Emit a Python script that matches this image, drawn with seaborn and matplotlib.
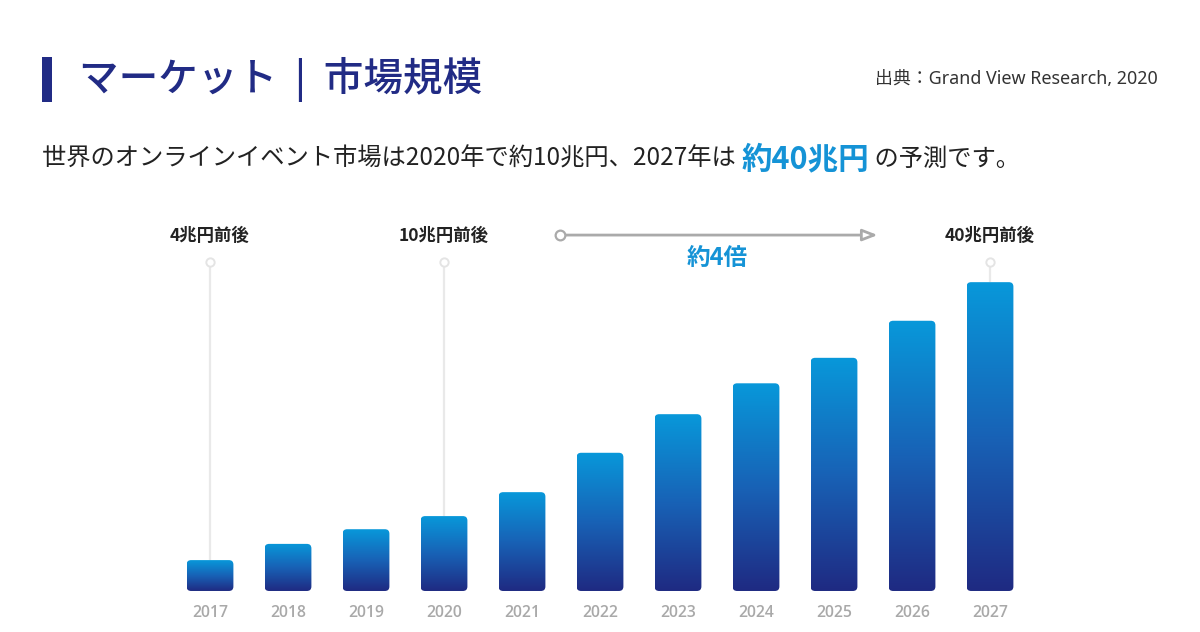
#!/usr/bin/env python3
"""
Online event market size bar chart (2017-2027)
"""

import numpy as np
import matplotlib
matplotlib.use('Agg')
import matplotlib.pyplot as plt
from matplotlib.colors import LinearSegmentedColormap
from matplotlib.patches import FancyBboxPatch, Rectangle
import seaborn as sns

sns.set_style("white")
plt.rcParams['font.family'] = ['Noto Sans CJK JP', 'DejaVu Sans']
LATIN_FIRST = ['Noto Sans', 'Noto Sans CJK JP', 'DejaVu Sans']

# Data (trillion yen)
years = ['2017', '2018', '2019', '2020', '2021', '2022', '2023', '2024', '2025', '2026', '2027']
market_size = [4.0, 6.1, 8.0, 9.7, 12.8, 17.9, 22.9, 26.9, 30.2, 35.0, 40.0]

callout_years = ['2017', '2020', '2027']
callout_labels = ['4兆円前後', '10兆円前後', '40兆円前後']

title_text = 'マーケット  |  市場規模'
source_text = '出典：Grand View Research, 2020'
subtitle_parts = ['世界のオンラインイベント市場は2020年で約10兆円、2027年は ', '約40兆円', ' の予測です。']
growth_label = '約4倍'

NAVY = '#212b85'
BLUE = '#1593d6'
bar_cmap = LinearSegmentedColormap.from_list('bar', ['#1f2a82', '#1862b6', '#0898da'])

fig = plt.figure(figsize=(12, 6.32), dpi=100)
ax = fig.add_axes([0.1425, 0.0649, 0.715, 0.6108])

sns.barplot(x=years, y=market_size, ax=ax, width=0.6, color='#1862b6')

ymax = 50
ax.set_xlim(-0.5, len(years) - 0.5)
ax.set_ylim(0, ymax)

# rounded corners need aspect correction (data units per pixel)
px_x = (len(years)) / (0.715 * 1200)
px_y = ymax / (0.6108 * 632)
radius_px = 4.5

for patch in list(ax.patches):
    x0, w, h = patch.get_x(), patch.get_width(), patch.get_height()
    patch.set_visible(False)
    box = FancyBboxPatch((x0, 0), w, h,
                         boxstyle=f"round,pad=0,rounding_size={radius_px * px_x}",
                         mutation_aspect=px_y / px_x,
                         facecolor='none', edgecolor='none', transform=ax.transData)
    ax.add_patch(box)
    grad = np.linspace(1, 0, 256).reshape(-1, 1)
    im = ax.imshow(grad, cmap=bar_cmap, aspect='auto', extent=[x0, x0 + w, 0, h],
                   origin='upper', zorder=2, interpolation='bicubic')
    im.set_clip_path(box)

ax.set_xlim(-0.5, len(years) - 0.5)
ax.set_ylim(0, ymax)

# callouts with leader lines
line_top = 42.6
label_y = 45.95
for yr, lab in zip(callout_years, callout_labels):
    i = years.index(yr)
    ax.plot([i, i], [market_size[i], line_top], color='#e9e9e9', lw=1.6, zorder=1, solid_capstyle='butt')
    ax.plot(i, line_top, marker='o', ms=6, mfc='white', mec='#e4e4e4', mew=1.4, zorder=3, clip_on=False)
    ax.text(i, label_y, lab, ha='center', va='center', fontsize=12.5, fontweight='bold',
            color='#222222', clip_on=False)

# growth arrow
arrow_y = 46.1
ax.annotate('', xy=(8.56, arrow_y), xytext=(4.49, arrow_y),
            arrowprops=dict(arrowstyle='-|>,head_length=0.9,head_width=0.35', color='#aaaaaa',
                            lw=2, fc='white', shrinkA=0, shrinkB=0), annotation_clip=False)
ax.plot(4.49, arrow_y, marker='o', ms=7, mfc='white', mec='#aaaaaa', mew=1.6, clip_on=False, zorder=4)
ax.text(6.5, 43.1, growth_label, ha='center', va='center', fontsize=17, fontweight='bold',
        color=BLUE, clip_on=False)

# axes styling
sns.despine(ax=ax, left=True, bottom=True)
ax.set_yticks([])
ax.tick_params(axis='x', length=0, pad=10, labelsize=11.3, labelcolor='#a9a9a9')
for t in ax.get_xticklabels():
    t.set_fontweight('semibold')
    t.set_family(['Open Sans', 'Noto Sans', 'DejaVu Sans'])
ax.set_xlabel('')
ax.set_ylabel('')
ax.set_facecolor('white')
ax.grid(False)

# header
fig.patches.append(Rectangle((42 / 1200, 1 - 102 / 632), 10 / 1200, 45 / 632,
                             transform=fig.transFigure, facecolor=NAVY, edgecolor='none'))
fig.text(79 / 1200, 1 - 79 / 632, title_text, ha='left', va='center', fontsize=28.5,
         fontweight='medium', color=NAVY)
fig.text(1158 / 1200, 1 - 79 / 632, source_text, ha='right', va='center', fontsize=12.9,
         color='#333333', family=LATIN_FIRST)

# subtitle built from three pieces
t1 = fig.text(42 / 1200, 1 - 159 / 632, subtitle_parts[0], ha='left', va='center', fontsize=17.5,
              color='#222222')
t2 = ax.annotate(subtitle_parts[1], xy=(1, 0.5), xycoords=t1, ha='left', va='center',
                 fontsize=22, fontweight='bold', color=BLUE, annotation_clip=False)
ax.annotate(subtitle_parts[2], xy=(1, 0.5), xycoords=t2, ha='left', va='center',
            fontsize=17.5, color='#222222', annotation_clip=False)

fig.savefig('out.png', dpi=100, facecolor='white')
